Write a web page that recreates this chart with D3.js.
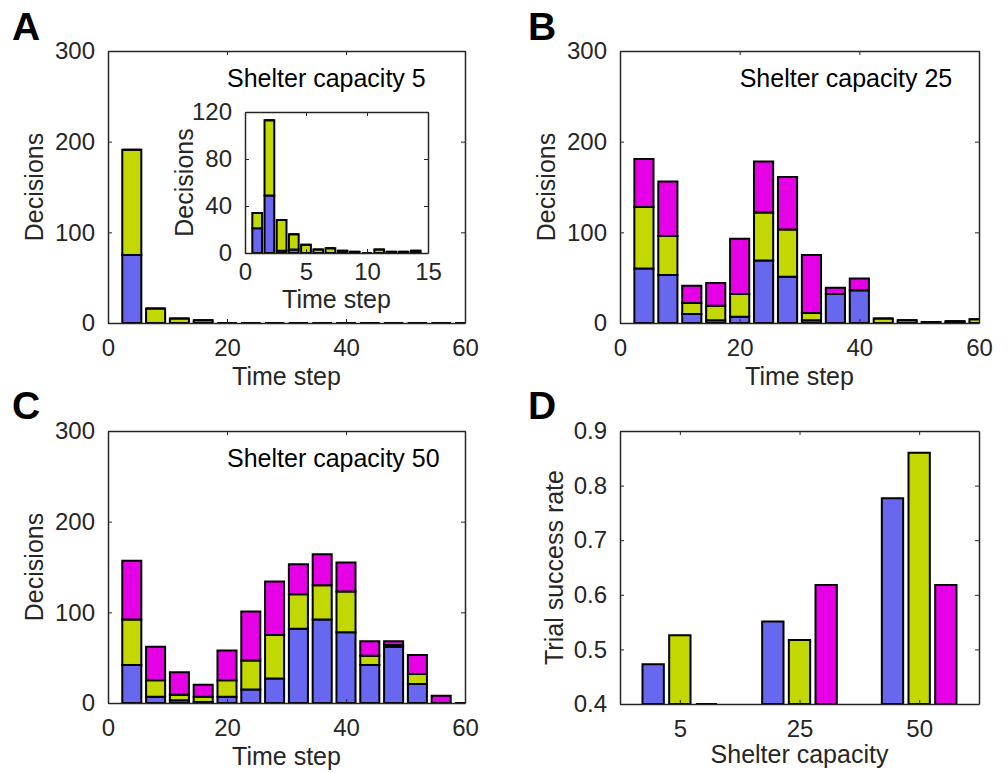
<!DOCTYPE html>
<html>
<head>
<meta charset="utf-8">
<script src="https://cdn.jsdelivr.net/npm/d3@7"></script>
<style>
  body { margin: 0; background: #fff; }
  text { font-family: "Liberation Sans", Arial, Helvetica, sans-serif; }
</style>
</head>
<body>
<svg id="fig" width="1008" height="773"></svg>
<script>
// time-step bins (centre of each 4-step bin)
const binCenters = [4, 8, 12, 16, 20, 24, 28, 32, 36, 40, 44, 48, 52, 56, 60];

// panel A, shelter capacity 5
const aBlue    = [75, 0, 0, 0, 0, 0, 0, 0, 0, 0, 0, 0, 0, 0, 0];
const aGreen   = [116, 16, 5, 3, 0, 0, 0, 0, 0, 0, 0, 0, 0, 0, 0];
const aMagenta = [0, 0, 0, 0, 0, 0, 0, 0, 0, 0, 0, 0, 0, 0, 0];

// inset of A, single time steps
const insetSteps   = [1, 2, 3, 4, 5, 6, 7, 8, 9, 10, 11, 12, 13, 14];
const insetBlue    = [21, 49, 2, 3, 0, 0, 0, 0, 0, 0, 0, 0, 0, 0];
const insetGreen   = [13, 64, 26, 13, 7, 3, 4, 2, 1, 0, 3, 1, 1, 2];
const insetMagenta = [0, 0, 0, 0, 0, 0, 0, 0, 0, 0, 0, 0, 0, 0];

// panel B, shelter capacity 25
const bBlue    = [60, 53, 10, 3, 7, 69, 51, 3, 32, 36, 0, 0, 0, 1, 0];
const bGreen   = [68, 43, 12, 16, 25, 53, 52, 8, 0, 0, 5, 3, 1, 1, 4];
const bMagenta = [53, 60, 19, 25, 61, 56, 58, 64, 7, 13, 0, 0, 0, 0, 0];

// panel C, shelter capacity 50
const cBlue    = [42, 7, 3, 1, 7, 15, 27, 82, 92, 78, 42, 62, 21, 0, 0];
const cGreen   = [50, 18, 6, 6, 18, 32, 48, 38, 38, 45, 10, 2, 11, 0, 0];
const cMagenta = [65, 37, 25, 13, 33, 54, 59, 33, 34, 32, 16, 4, 21, 8, 0];

// panel D, success rate by shelter capacity
const capacities = ["5", "25", "50"];
const dBlue    = [0.473, 0.551, 0.777];
const dGreen   = [0.526, 0.517, 0.860];
const dMagenta = [0, 0.618, 0.618];

const decisionTicks = [0, 100, 200, 300];
const timeTicks = [0, 20, 40, 60];
const insetYTicks = [0, 40, 80, 120];
const insetXTicks = [0, 5, 10, 15];
const rateTicks = [0.4, 0.5, 0.6, 0.7, 0.8, 0.9];

const keys = ["blue", "green", "magenta"];
const colors = { blue: "#6767f0", green: "#c2d800", magenta: "#e600e6" };
const axisColor = "#262626";

const svg = d3.select("#fig");

// box with inward ticks on all sides, MATLAB style
function drawAxes(g, x, y, xTicks, yTicks, xFmt, yFmt, fs, xPad) {
  const [x0, x1] = x.range();
  const [y0, y1] = y.range();
  const ax = [
    { a: d3.axisBottom(x).tickValues(xTicks).tickFormat(xFmt).tickPadding(xPad), t: `translate(0,${y0})` },
    { a: d3.axisTop(x).tickValues(xTicks).tickFormat(""), t: `translate(0,${y1})` },
    { a: d3.axisLeft(y).tickValues(yTicks).tickFormat(yFmt).tickPadding(13), t: `translate(${x0},0)` },
    { a: d3.axisRight(y).tickValues(yTicks).tickFormat(""), t: `translate(${x1},0)` }
  ];
  ax.forEach(d => {
    const s = g.append("g").attr("transform", d.t)
      .call(d.a.tickSize(-4).tickSizeOuter(0));
    s.select(".domain").attr("stroke", axisColor).attr("stroke-width", 1.5);
    s.selectAll(".tick line").attr("stroke", axisColor).attr("stroke-width", 1);
    s.selectAll("text").attr("fill", axisColor).style("font-size", fs + "px")
      .style("font-family", "\"Liberation Sans\", Arial, sans-serif");
  });
}

function barPath(xa, xb, ya, yb) {
  return `M${xa},${ya}H${xb}V${yb}H${xa}Z`;
}

function clipFor(g, id, x, y) {
  const [x0, x1] = x.range();
  const [y0, y1] = y.range();
  g.append("clipPath").attr("id", id).append("rect")
    .attr("x", x0).attr("y", y1).attr("width", x1 - x0).attr("height", y0 - y1);
  return g.append("g").attr("clip-path", `url(#${id})`);
}

function stackedPanel(opt) {
  const g = svg.append("g");
  const x = d3.scaleLinear().domain(opt.xDomain).range([opt.left, opt.right]);
  const y = d3.scaleLinear().domain(opt.yDomain).range([opt.bottom, opt.top]);
  if (opt.background) {
    g.append("rect").attr("x", opt.left).attr("y", opt.top)
      .attr("width", opt.right - opt.left).attr("height", opt.bottom - opt.top)
      .attr("fill", "#fff");
  }
  const rows = opt.pos.map((p, i) => ({ p, blue: opt.blue[i], green: opt.green[i], magenta: opt.magenta[i] }));
  const series = d3.stack().keys(keys)(rows);
  const plot = clipFor(g, opt.id, x, y);
  const hw = opt.barWidth / 2;
  plot.selectAll("g.layer").data(series).join("g")
    .attr("class", "layer")
    .attr("fill", s => colors[s.key])
    .selectAll("path").data(s => s).join("path")
    .attr("d", d => barPath(x(d.data.p - hw), x(d.data.p + hw), y(d[0]), y(d[1])))
    .attr("stroke", "#000").attr("stroke-width", 2);
  drawAxes(g, x, y, opt.xTicks, opt.yTicks, d3.format("d"), d3.format("d"), opt.fs, opt.xPad);
  // axis labels
  g.append("text").attr("x", (opt.left + opt.right) / 2).attr("y", opt.bottom + opt.xLabelOff)
    .attr("text-anchor", "middle").attr("fill", axisColor).style("font-size", opt.fs + 1 + "px")
    .text("Time step");
  g.append("text").attr("transform", `translate(${opt.yLabelX},${(opt.top + opt.bottom) / 2}) rotate(-90)`)
    .attr("text-anchor", "middle").attr("fill", axisColor).style("font-size", opt.fs + 1 + "px")
    .text("Decisions");
  if (opt.title) {
    g.append("text").attr("x", x(20)).attr("y", y(260))
      .attr("fill", "#000").style("font-size", "25px").text(opt.title);
  }
  return g;
}

function letter(txt, xp, yp) {
  svg.append("text").attr("x", xp).attr("y", yp)
    .style("font-size", "39px").style("font-weight", "bold").attr("fill", "#000").text(txt);
}

// A
stackedPanel({
  id: "clipA", left: 108, right: 465, top: 51, bottom: 323,
  xDomain: [0, 60], yDomain: [0, 300], pos: binCenters, barWidth: 3.2,
  blue: aBlue, green: aGreen, magenta: aMagenta,
  xTicks: timeTicks, yTicks: decisionTicks, fs: 24, xPad: 16,
  xLabelOff: 62, yLabelX: 43, title: "Shelter capacity 5"
});
// inset of A
stackedPanel({
  id: "clipInset", left: 245, right: 428, top: 112, bottom: 253, background: true,
  xDomain: [0, 15], yDomain: [0, 120], pos: insetSteps, barWidth: 0.8,
  blue: insetBlue, green: insetGreen, magenta: insetMagenta,
  xTicks: insetXTicks, yTicks: insetYTicks, fs: 24, xPad: 10,
  xLabelOff: 55, yLabelX: 193
});
// B
stackedPanel({
  id: "clipB", left: 620, right: 979, top: 51, bottom: 323,
  xDomain: [0, 60], yDomain: [0, 300], pos: binCenters, barWidth: 3.2,
  blue: bBlue, green: bGreen, magenta: bMagenta,
  xTicks: timeTicks, yTicks: decisionTicks, fs: 24, xPad: 16,
  xLabelOff: 62, yLabelX: 555, title: "Shelter capacity 25"
});
// C
stackedPanel({
  id: "clipC", left: 108, right: 465, top: 431, bottom: 703,
  xDomain: [0, 60], yDomain: [0, 300], pos: binCenters, barWidth: 3.2,
  blue: cBlue, green: cGreen, magenta: cMagenta,
  xTicks: timeTicks, yTicks: decisionTicks, fs: 24, xPad: 16,
  xLabelOff: 62, yLabelX: 43, title: "Shelter capacity 50"
});

// D
(function () {
  const g = svg.append("g");
  const left = 620, right = 979, top = 431, bottom = 704;
  const x = d3.scaleBand().domain(capacities).range([left, right]);
  const xs = d3.scaleBand().domain(keys).range([-40, 40]).paddingInner(0.2).paddingOuter(0.1);
  const y = d3.scaleLinear().domain([0.4, 0.9]).range([bottom, top]).clamp(true);
  const vals = { blue: dBlue, green: dGreen, magenta: dMagenta };
  const rows = [];
  capacities.forEach((c, i) => keys.forEach(k => rows.push({ c, k, v: vals[k][i] })));
  const plot = clipFor(g, "clipD", d3.scaleLinear().range([left, right]), y);
  plot.selectAll("path").data(rows).join("path")
    .attr("d", d => {
      const xa = x(d.c) + x.bandwidth() / 2 + xs(d.k);
      return barPath(xa, xa + xs.bandwidth(), y(0.4), y(d.v));
    })
    .attr("fill", d => colors[d.k])
    .attr("stroke", "#000").attr("stroke-width", 2);
  const xl = d3.scaleLinear().domain([0.5, 3.5]).range([left, right]);
  drawAxes(g, xl, y, [1, 2, 3], rateTicks, d => capacities[d - 1], d3.format(".1f"), 24, 16);
  g.append("text").attr("x", (left + right) / 2).attr("y", bottom + 59)
    .attr("text-anchor", "middle").attr("fill", axisColor).style("font-size", "25px")
    .text("Shelter capacity");
  g.append("text").attr("transform", `translate(563,${(top + bottom) / 2}) rotate(-90)`)
    .attr("text-anchor", "middle").attr("fill", axisColor).style("font-size", "25px")
    .text("Trial success rate");
})();

letter("A", 12, 40);
letter("B", 528, 40);
letter("C", 12, 419);
letter("D", 528, 419);
</script>
</body>
</html>
